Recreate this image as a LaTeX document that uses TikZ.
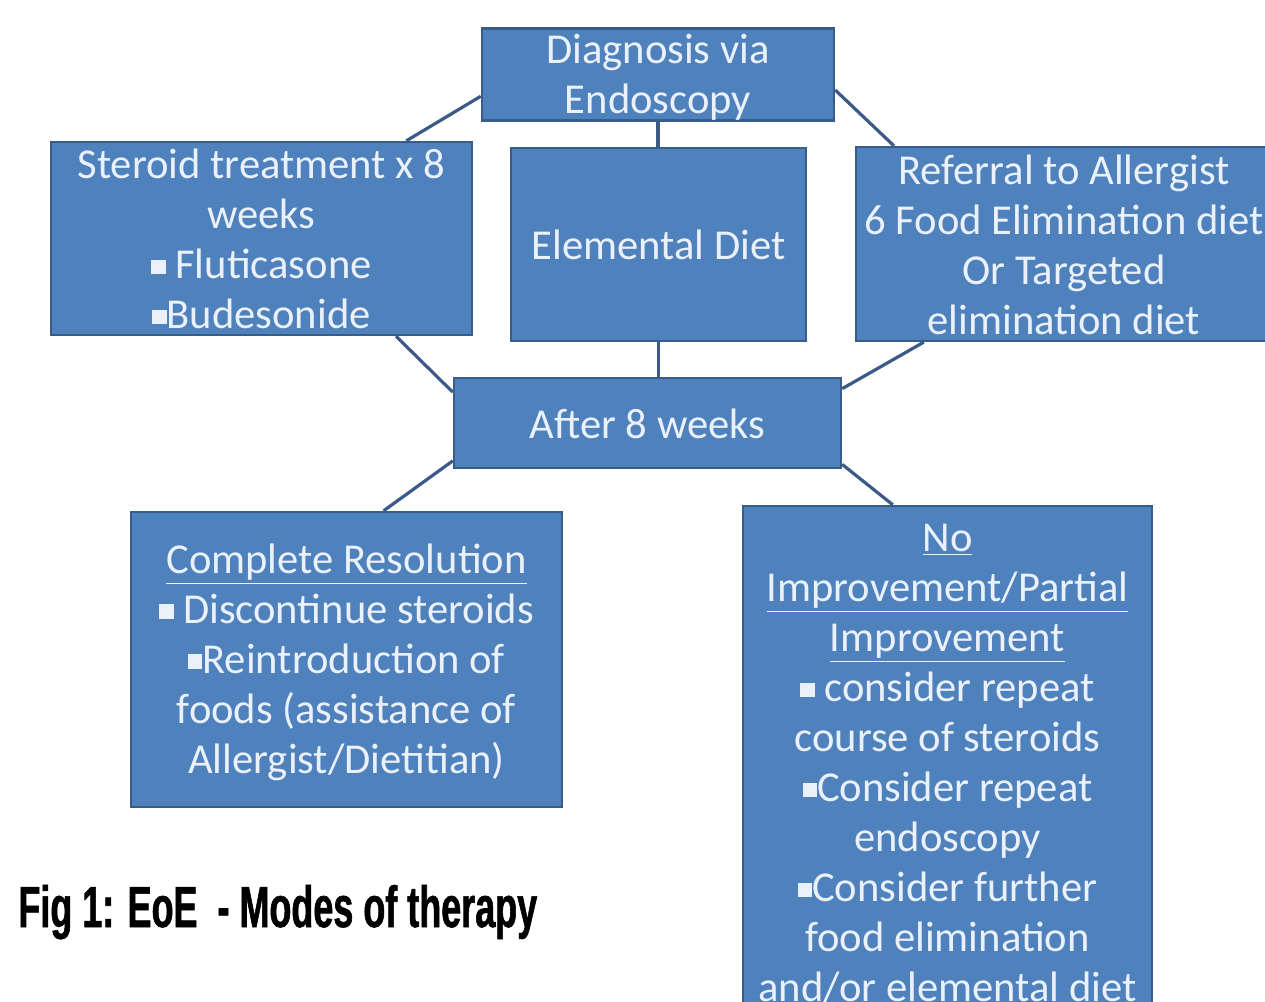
\documentclass[tikz,border=0pt]{standalone}
\usepackage{fontspec}
\setmainfont{Carlito}
\newfontfamily\capfont[FakeStretch=0.62, BoldFeatures={FakeBold=1}]{Liberation Sans}
\usetikzlibrary{calc}
\definecolor{boxfill}{RGB}{79,129,189}
\definecolor{boxline}{RGB}{56,93,138}
\definecolor{linkc}{RGB}{60,90,135}
\definecolor{boxtext}{RGB}{234,241,251}
\newcommand{\sqbul}{\raisebox{0.22ex}{\rule{0.34em}{0.34em}}}
\newcommand{\topst}{\rule{0pt}{17.5pt}}
\newcommand{\botst}{\rule[-2.5pt]{0pt}{2.5pt}}

\begin{document}
\begin{tikzpicture}[
        x=0.5pt, y=-0.5pt,
        box/.style={draw=boxline, line width=1.2pt, fill=boxfill, text=boxtext, align=center,
                    inner sep=0pt, font=\fontsize{21.3}{25}\selectfont},
        link/.style={draw=linkc, line width=1.6pt},
        caption_style/.style={anchor=base west, inner sep=0pt, font=\capfont\bfseries\fontsize{29}{30}\selectfont}
    ]
        \useasboundingbox (0,0) rectangle (1265,1002);
        \clip (0,0) rectangle (1265,1002);

        % Top row
        \node[box, minimum width=176pt, minimum height=45.5pt] (diag) at (658,74.5)
            {\topst Diagnosis via\\Endoscopy\botst};
        \node[box, minimum width=210.5pt, minimum height=96.5pt] (steroid) at (261.5,238.5)
            {\topst Steroid treatment x 8\\weeks\\\sqbul{} Fluticasone\\\sqbul Budesonide\botst};
        \node[box, minimum width=147.5pt, minimum height=96.5pt] (elem) at (658.5,244.5)
            {\topst Elemental Diet\botst};
        \node[box, minimum width=208pt, minimum height=97pt] (ref) at (1064,244)
            {\topst Referral to Allergist\\6 Food Elimination diet\\Or Targeted\\elimination diet\botst};

        % Middle
        \node[box, minimum width=193.5pt, minimum height=45pt] (after) at (647.5,423)
            {\topst After 8 weeks\botst};

        % Outcomes
        \node[box, minimum width=215.5pt, minimum height=147.5pt] (comp) at (346.5,659.5)
            {\topst\underline{Complete Resolution}\\\sqbul{} Discontinue steroids\\\sqbul Reintroduction of\\foods (assistance of\\Allergist/Dietitian)\botst};
        \node[box, minimum width=204.5pt, minimum height=255.5pt] (noimp) at (947.5,761.5)
            {\topst\underline{No}\\\underline{Improvement/Partial}\\\underline{Improvement}\\\sqbul{} consider repeat\\course of steroids\\\sqbul Consider repeat\\endoscopy\\\sqbul Consider further\\food elimination\\and/or elemental diet\botst};

        % Connectors
        \draw[link] (diag.187) -- (steroid.34.5);
        \draw[link] (diag.south) -- (diag.south |- elem.north);
        \draw[link] (diag.355) -- (ref.150);
        \draw[link] (steroid.324) -- (after.171);
        \draw[link] (elem.south) -- (elem.south |- after.north);
        \draw[link] (ref.215) -- (after.10);
        \draw[link] (after.191) -- (comp.76);
        \draw[link] (after.348) -- ($(noimp.north west)!0.367!(noimp.north east)$);

        % Caption
        \node[caption_style] (cap) at (18,927) {Fig 1: EoE\ \ - Modes of therapy};

    \end{tikzpicture}
\end{document}
